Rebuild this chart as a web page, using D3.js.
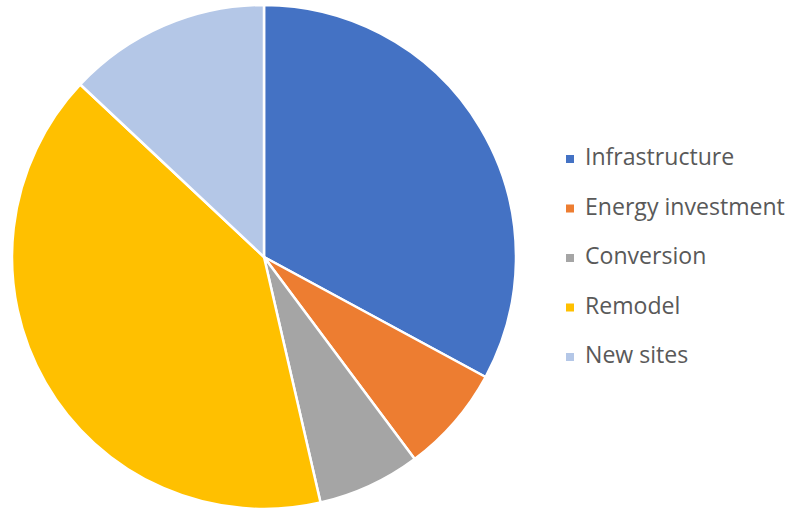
<!DOCTYPE html>
<html>
<head>
<meta charset="utf-8">
<script src="https://cdn.jsdelivr.net/npm/d3@7"></script>
<style>
  html, body { margin: 0; padding: 0; background: #fff; }
  svg { display: block; }
</style>
</head>
<body>
<svg id="chart" width="794" height="511"></svg>
<script>
// Budget split by project type
const categories = ["Infrastructure", "Energy investment", "Conversion", "Remodel", "New sites"];
const values = [32.9, 6.9, 6.6, 40.6, 13.0];
const colors = ["#4472C4", "#ED7D31", "#A5A5A5", "#FFC000", "#B4C7E7"];

const svg = d3.select("#chart");
const cx = 264, cy = 257, radius = 252;

const data = categories.map((c, i) => ({ name: c, value: values[i] }));
const color = d3.scaleOrdinal().domain(categories).range(colors);

const pie = d3.pie().value(d => d.value).sort(null);
const arc = d3.arc().innerRadius(0).outerRadius(radius);

svg.append("g")
  .attr("transform", `translate(${cx},${cy})`)
  .selectAll("path")
  .data(pie(data))
  .join("path")
  .attr("d", arc)
  .attr("fill", d => color(d.data.name))
  .attr("stroke", "#fff")
  .attr("stroke-width", 2.5)
  .attr("stroke-linejoin", "round");

// Legend
const legendX = 566, legendY0 = 157, legendStep = 49.5;
const legend = svg.append("g");
const rows = legend.selectAll("g")
  .data(categories)
  .join("g")
  .attr("transform", (d, i) => `translate(${legendX},${legendY0 + i * legendStep})`);

rows.append("rect")
  .attr("x", 0).attr("y", -2)
  .attr("width", 8).attr("height", 8)
  .attr("fill", d => color(d));

const labels = rows.append("text")
  .attr("x", 19)
  .attr("y", 0)
  .attr("dy", "0.35em")
  .attr("fill", "#595959")
  .style("font-family", "'Open Sans', 'Noto Sans', sans-serif")
  .style("font-size", "20px")
  .text(d => d);

// Fit legend text so the longest label spans the space to the right edge
const longest = d3.max(labels.nodes(), n => n.getComputedTextLength());
const fs = 20 * 200 / longest;
labels.style("font-size", fs + "px");
</script>
</body>
</html>
